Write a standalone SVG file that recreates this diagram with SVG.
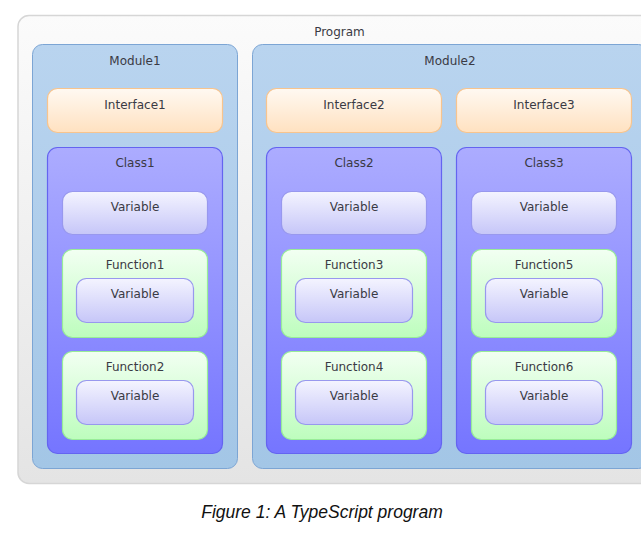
<svg xmlns="http://www.w3.org/2000/svg" width="641" height="542" viewBox="0 0 641 542">
<defs>
<linearGradient id="gProg" x1="0" y1="0" x2="0" y2="1"><stop offset="0" stop-color="#fbfbfb"/><stop offset="1" stop-color="#e4e4e4"/></linearGradient>
<linearGradient id="gMod" x1="0" y1="0" x2="0" y2="1"><stop offset="0" stop-color="#b9d4ef"/><stop offset="1" stop-color="#a3c6e6"/></linearGradient>
<linearGradient id="gInt" x1="0" y1="0" x2="0" y2="1"><stop offset="0" stop-color="#fff9f2"/><stop offset="1" stop-color="#ffe1c0"/></linearGradient>
<linearGradient id="gCls" x1="0" y1="0" x2="0" y2="1"><stop offset="0" stop-color="#acacff"/><stop offset="1" stop-color="#7575ff"/></linearGradient>
<linearGradient id="gVar" x1="0" y1="0" x2="0" y2="1"><stop offset="0" stop-color="#f4f4ff"/><stop offset="1" stop-color="#c6c6f8"/></linearGradient>
<linearGradient id="gFn" x1="0" y1="0" x2="0" y2="1"><stop offset="0" stop-color="#f2fff2"/><stop offset="1" stop-color="#bdfdbd"/></linearGradient>
</defs>
<style>
.prog{fill:url(#gProg);stroke:#d6d6d6;stroke-width:1.5}
.mod{fill:url(#gMod);stroke:#7ca5d4;stroke-width:1}
.int{fill:url(#gInt);stroke:#f7c48e;stroke-width:1.2}
.cls{fill:url(#gCls);stroke:#6464f0;stroke-width:1.2}
.var{fill:url(#gVar);stroke:#9898ee;stroke-width:1.2}
.fn{fill:url(#gFn);stroke:#98ec98;stroke-width:1.2}
text{font-family:"DejaVu Sans",Verdana,sans-serif;font-size:12px;fill:#3a3a44;text-anchor:middle}
.cap{font-family:"Liberation Sans",Arial,sans-serif;font-size:17.5px;font-style:italic;fill:#111}
</style>
<rect width="641" height="542" fill="#ffffff"/>
<g id="program">
<rect class="prog" x="18" y="15.5" width="643" height="468" rx="11"/>
<text x="339.5" y="36">Program</text>
</g>
<g id="module1">
<rect class="mod" x="32.5" y="44.5" width="205" height="424" rx="10"/>
<text x="135" y="65">Module1</text>
</g>
<g id="module2">
<rect class="mod" x="252.5" y="44.5" width="396" height="424" rx="10"/>
<text x="450" y="65">Module2</text>
</g>
<g id="interface1"><rect class="int" x="47.5" y="88.5" width="175" height="44" rx="10"/><text x="135" y="109">Interface1</text></g>
<g id="interface2"><rect class="int" x="266.5" y="88.5" width="175" height="44" rx="10"/><text x="354" y="109">Interface2</text></g>
<g id="interface3"><rect class="int" x="456.5" y="88.5" width="175" height="44" rx="10"/><text x="544" y="109">Interface3</text></g>

<g id="class1"><rect class="cls" x="47.5" y="147.5" width="175" height="306" rx="10"/><text x="135" y="167">Class1</text></g>
<g id="class2"><rect class="cls" x="266.5" y="147.5" width="175" height="306" rx="10"/><text x="354" y="167">Class2</text></g>
<g id="class3"><rect class="cls" x="456.5" y="147.5" width="175" height="306" rx="10"/><text x="544" y="167">Class3</text></g>

<g id="c1var"><rect class="var" x="62.5" y="191.5" width="145" height="43" rx="10"/><text x="135" y="211">Variable</text></g>
<g id="c2var"><rect class="var" x="281.5" y="191.5" width="145" height="43" rx="10"/><text x="354" y="211">Variable</text></g>
<g id="c3var"><rect class="var" x="471.5" y="191.5" width="145" height="43" rx="10"/><text x="544" y="211">Variable</text></g>

<g id="function1"><rect class="fn" x="62.5" y="249.5" width="145" height="88" rx="10"/><text x="135" y="269">Function1</text>
<rect class="var" x="76.5" y="278.5" width="117" height="44" rx="10"/><text x="135" y="298">Variable</text></g>
<g id="function2"><rect class="fn" x="62.5" y="351.5" width="145" height="88" rx="10"/><text x="135" y="371">Function2</text>
<rect class="var" x="76.5" y="380.5" width="117" height="44" rx="10"/><text x="135" y="400">Variable</text></g>

<g id="function3"><rect class="fn" x="281.5" y="249.5" width="145" height="88" rx="10"/><text x="354" y="269">Function3</text>
<rect class="var" x="295.5" y="278.5" width="117" height="44" rx="10"/><text x="354" y="298">Variable</text></g>
<g id="function4"><rect class="fn" x="281.5" y="351.5" width="145" height="88" rx="10"/><text x="354" y="371">Function4</text>
<rect class="var" x="295.5" y="380.5" width="117" height="44" rx="10"/><text x="354" y="400">Variable</text></g>

<g id="function5"><rect class="fn" x="471.5" y="249.5" width="145" height="88" rx="10"/><text x="544" y="269">Function5</text>
<rect class="var" x="485.5" y="278.5" width="117" height="44" rx="10"/><text x="544" y="298">Variable</text></g>
<g id="function6"><rect class="fn" x="471.5" y="351.5" width="145" height="88" rx="10"/><text x="544" y="371">Function6</text>
<rect class="var" x="485.5" y="380.5" width="117" height="44" rx="10"/><text x="544" y="400">Variable</text></g>

<g id="connectors"></g>
<text class="cap" x="322" y="518">Figure 1: A TypeScript program</text>
</svg>
